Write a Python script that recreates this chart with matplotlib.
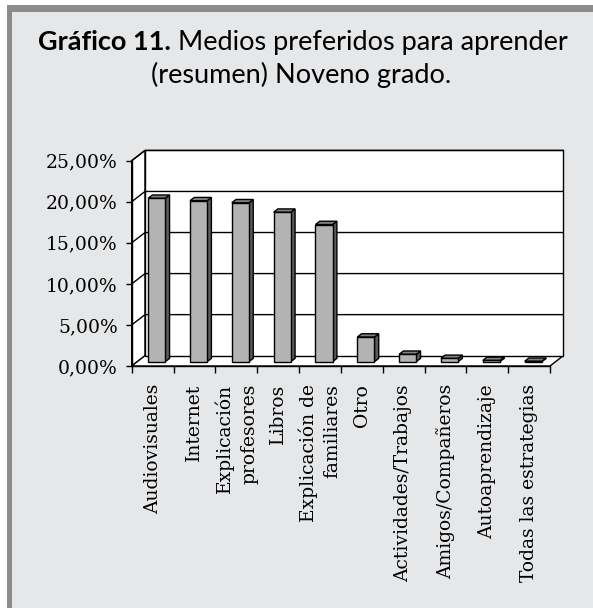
import matplotlib
matplotlib.use("Agg")
import matplotlib.pyplot as plt
from matplotlib.patches import Rectangle, Polygon
from matplotlib.ticker import FixedLocator, FuncFormatter

# ---------------- data ----------------
categories = ["Audiovisuales", "Internet", "Explicación\nprofesores", "Libros",
              "Explicación de\nfamiliares", "Otro", "Actividades/Trabajos",
              "Amigos/Compañeros", "Autoaprendizaje", "Todas las estrategias"]
values = [19.9, 19.6, 19.35, 18.2, 16.7, 3.0, 0.9, 0.4, 0.15, 0.05]
y_ticks = [0, 5, 10, 15, 20, 25]
title_bold = "Gráfico 11."
title_rest = " Medios preferidos para aprender"
title_line2 = "(resumen) Noveno grado."

# ---------------- figure ----------------
W, H = 593, 608
fig = plt.figure(figsize=(W / 100, H / 100), dpi=100)
fig.patch.set_facecolor("white")

def px(x0, y0, w, h):
    return (x0 / W, 1 - (y0 + h) / H, w / W, h / H)

# panel background and frame
bx, by, bw, bh = px(7, 5, W - 7, H - 5)
fig.patches.append(Rectangle((bx, by), bw, bh, transform=fig.transFigure,
                             facecolor="#e6e7e9", edgecolor="none", zorder=-2))
bx, by, bw, bh = px(7, 5, W - 7, 7)
fig.patches.append(Rectangle((bx, by), bw, bh, transform=fig.transFigure,
                             facecolor="#8c8c8c", edgecolor="none", zorder=-1))
bx, by, bw, bh = px(7, 5, 5, H - 5)
fig.patches.append(Rectangle((bx, by), bw, bh, transform=fig.transFigure,
                             facecolor="#8c8c8c", edgecolor="none", zorder=-1))

# ---------------- title ----------------
tfont = "Lato"
tsize = 19.5
renderer = fig.canvas.get_renderer()
t1 = fig.text(0, 0, title_bold, fontsize=tsize, fontweight="bold", family=tfont,
              color="black", va="baseline", ha="left")
t2 = fig.text(0, 0, title_rest, fontsize=tsize, family=tfont,
              color="black", va="baseline", ha="left")
w1 = t1.get_window_extent(renderer).width
w2 = t2.get_window_extent(renderer).width
cx = 303
xs = cx - (w1 + w2) / 2
base1 = 1 - 50 / H
t1.set_position((xs / W, base1))
t2.set_position((xs / W + w1 / W, base1))
fig.text(301 / W, 1 - 83 / H, title_line2, fontsize=tsize, family=tfont,
         color="black", va="baseline", ha="center")

# ---------------- axes (front plane) ----------------
left_px, right_px, bot_px, top_px = 131.7, 550.0, 366.0, 160.7
ax = fig.add_axes(px(left_px, top_px, right_px - left_px, bot_px - top_px))
ax.set_zorder(2)
ax.patch.set_visible(False)
n = len(categories)
ax.set_xlim(0, n)
ax.set_ylim(0, 25)

ppx = (right_px - left_px) / n       # pixels per category
ppy = (bot_px - top_px) / 25         # pixels per percent
DX = 13.3 / ppx                      # depth offset in data units
DY = 10.3 / ppy

edge = dict(edgecolor="black", linewidth=1.0, clip_on=False)
# left wall
ax.add_patch(Polygon([(0, 0), (DX, DY), (DX, 25 + DY), (0, 25)],
                     facecolor="white", zorder=1, **edge))
# floor
ax.add_patch(Polygon([(0, 0), (n, 0), (n + DX, DY), (DX, DY)],
                     facecolor="white", zorder=1, **edge))
# back wall
ax.add_patch(Polygon([(DX, DY), (n + DX, DY), (n + DX, 25 + DY), (DX, 25 + DY)],
                     facecolor="white", zorder=1, **edge))
# gridlines
for yv in y_ticks[1:]:
    ax.plot([0, DX, n + DX], [yv, yv + DY, yv + DY], color="black", lw=1.0,
            zorder=2, clip_on=False)

# bars
f = 0.42          # depth position of front face
d = 0.32          # bar depth fraction
bw_ = 0.41
for i, v in enumerate(values):
    x0 = i + 0.26 + f * DX
    x1 = x0 + bw_
    y0 = f * DY
    y1 = y0 + v
    ddx, ddy = d * DX, d * DY
    ax.add_patch(Polygon([(x1, y0), (x1 + ddx, y0 + ddy), (x1 + ddx, y1 + ddy), (x1, y1)],
                         facecolor="#5a5a5a", zorder=3, joinstyle="miter", **edge))
    ax.add_patch(Polygon([(x0, y1), (x1, y1), (x1 + ddx, y1 + ddy), (x0 + ddx, y1 + ddy)],
                         facecolor="#808080", zorder=3, joinstyle="miter", **edge))
    ax.add_patch(Rectangle((x0, y0), bw_, v, facecolor="#b3b3b3", zorder=4,
                           joinstyle="miter", **edge))

# spines
for s in ["top", "right"]:
    ax.spines[s].set_visible(False)
for s in ["left", "bottom"]:
    ax.spines[s].set_linewidth(1.0)
    ax.spines[s].set_zorder(5)

ax.yaxis.set_major_locator(FixedLocator(y_ticks))
ax.yaxis.set_major_formatter(FuncFormatter(lambda v, p: f"{v:.2f}".replace(".", ",") + "%"))
ax.tick_params(axis="y", direction="out", length=4, width=1, pad=6, labelsize=13.5)
for lab in ax.get_yticklabels():
    lab.set_family("DejaVu Serif")

ax.xaxis.set_major_locator(FixedLocator(range(n + 1)))
ax.xaxis.set_minor_locator(FixedLocator([i + 0.5 for i in range(n)]))
ax.tick_params(axis="x", which="major", direction="out", length=5, width=1, labelbottom=False)
ax.tick_params(axis="x", which="minor", length=0, pad=13)
ax.set_xticklabels(categories, minor=True, rotation=90, fontsize=13.5,
                   family="DejaVu Serif", ha="center", va="top",
                   multialignment="right", linespacing=1.45)

fig.savefig("out.png", dpi=100, facecolor=fig.get_facecolor())
